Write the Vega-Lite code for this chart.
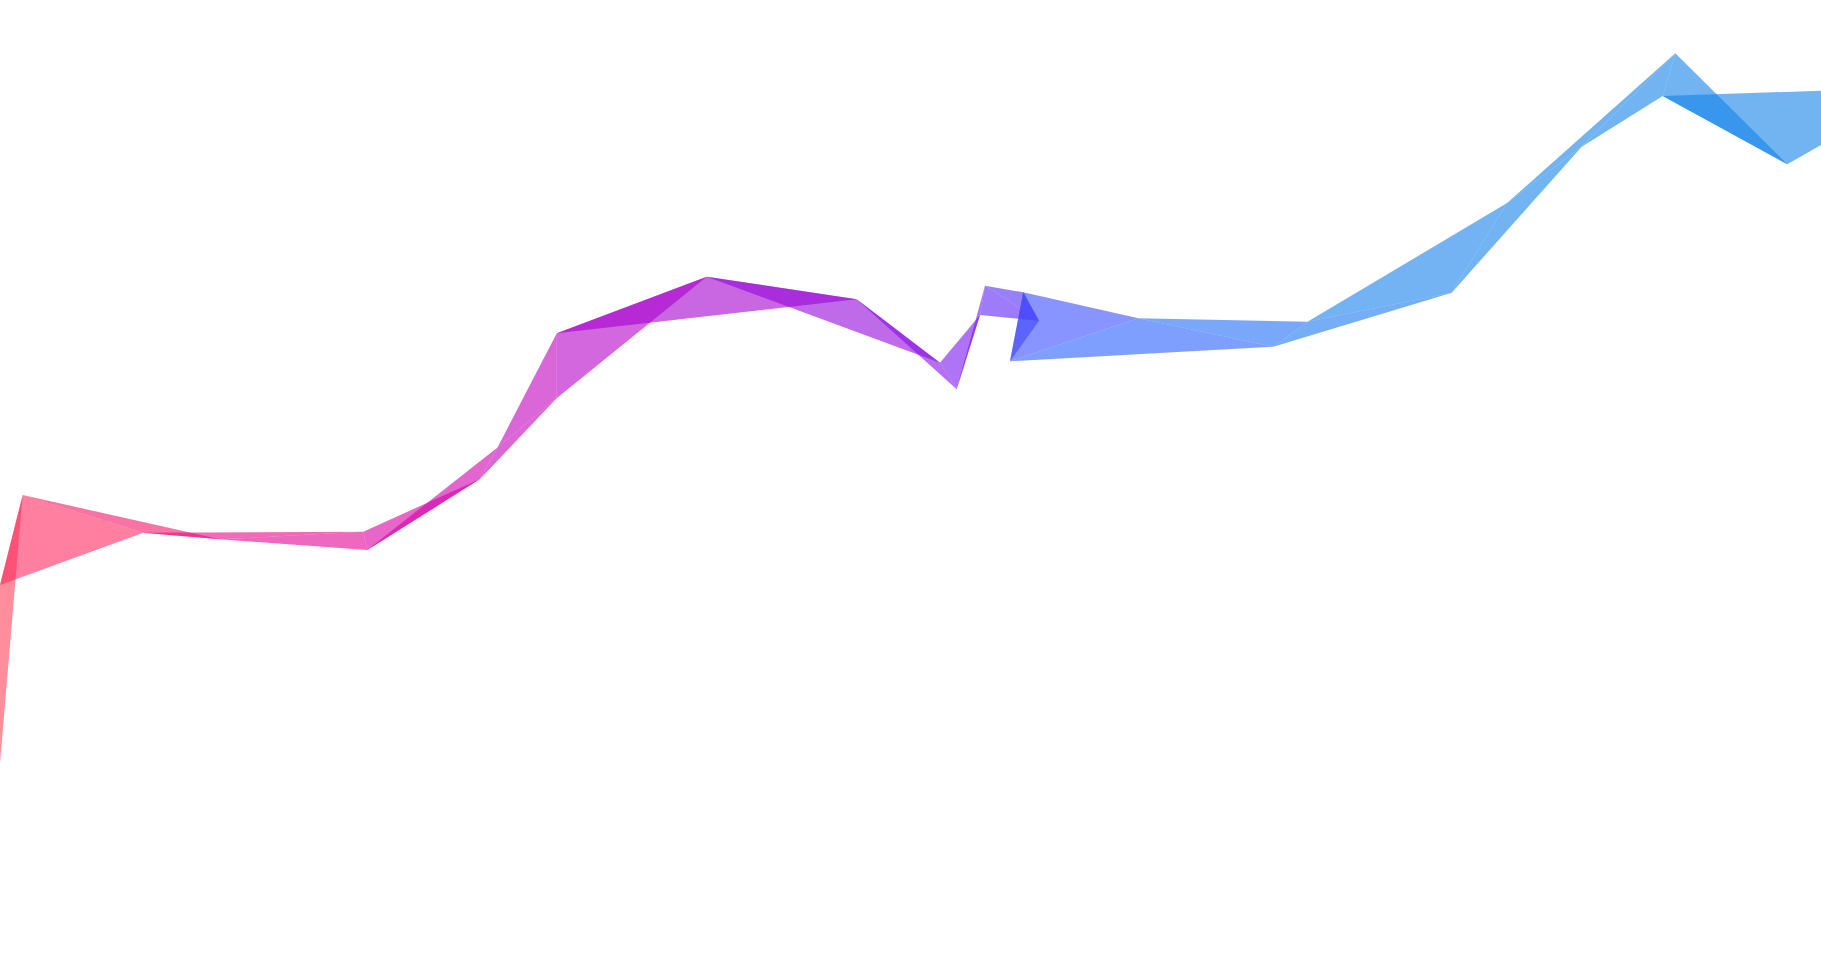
{
  "$schema": "https://vega.github.io/schema/vega-lite/v6.json",
  "width": 1821,
  "height": 965,
  "autosize": {"type": "none"},
  "padding": 0,
  "background": "white",
  "config": {"view": {"stroke": null}},
  "data": {
    "values": [
      {"g": 1, "c": 0, "x": -25, "y": -93}, {"g": 1, "c": 0, "x": 0, "y": 380}, {"g": 1, "c": 0, "x": 22.7, "y": 470},
      {"g": 2, "c": 55, "x": 0, "y": 380}, {"g": 2, "c": 55, "x": 22.7, "y": 470}, {"g": 2, "c": 55, "x": 143.3, "y": 432.3},
      {"g": 3, "c": 129, "x": 22.7, "y": 470}, {"g": 3, "c": 129, "x": 143.3, "y": 432.3}, {"g": 3, "c": 129, "x": 220, "y": 425.7},
      {"g": 4, "c": 242, "x": 143.3, "y": 432.3}, {"g": 4, "c": 242, "x": 220, "y": 425.7}, {"g": 4, "c": 242, "x": 363.3, "y": 433.3},
      {"g": 5, "c": 317, "x": 220, "y": 425.7}, {"g": 5, "c": 317, "x": 363.3, "y": 433.3}, {"g": 5, "c": 317, "x": 367.3, "y": 415},
      {"g": 6, "c": 404, "x": 363.3, "y": 433.3}, {"g": 6, "c": 404, "x": 367.3, "y": 415}, {"g": 6, "c": 404, "x": 480, "y": 486},
      {"g": 7, "c": 448, "x": 367.3, "y": 415}, {"g": 7, "c": 448, "x": 480, "y": 486}, {"g": 7, "c": 448, "x": 497.5, "y": 517.5},
      {"g": 8, "c": 511, "x": 480, "y": 486}, {"g": 8, "c": 511, "x": 497.5, "y": 517.5}, {"g": 8, "c": 511, "x": 556.7, "y": 566.7},
      {"g": 9, "c": 537, "x": 497.5, "y": 517.5}, {"g": 9, "c": 537, "x": 556.7, "y": 566.7}, {"g": 9, "c": 537, "x": 556.8, "y": 631.7},
      {"g": 10, "c": 607, "x": 556.7, "y": 566.7}, {"g": 10, "c": 607, "x": 556.8, "y": 631.7}, {"g": 10, "c": 607, "x": 706.7, "y": 688.3},
      {"g": 11, "c": 707, "x": 556.8, "y": 631.7}, {"g": 11, "c": 707, "x": 706.7, "y": 688.3}, {"g": 11, "c": 707, "x": 856.7, "y": 665.7},
      {"g": 12, "c": 834, "x": 706.7, "y": 688.3}, {"g": 12, "c": 834, "x": 856.7, "y": 665.7}, {"g": 12, "c": 834, "x": 940, "y": 602.3},
      {"g": 13, "c": 918, "x": 856.7, "y": 665.7}, {"g": 13, "c": 918, "x": 940, "y": 602.3}, {"g": 13, "c": 918, "x": 956.7, "y": 575.7},
      {"g": 14, "c": 959, "x": 940, "y": 602.3}, {"g": 14, "c": 959, "x": 956.7, "y": 575.7}, {"g": 14, "c": 959, "x": 980, "y": 650},
      {"g": 15, "c": 974, "x": 956.7, "y": 575.7}, {"g": 15, "c": 974, "x": 980, "y": 650}, {"g": 15, "c": 974, "x": 985, "y": 679.3},
      {"g": 16, "c": 1001, "x": 980, "y": 650}, {"g": 16, "c": 1001, "x": 985, "y": 679.3}, {"g": 16, "c": 1001, "x": 1039, "y": 644.3},
      {"g": 17, "c": 1016, "x": 985, "y": 679.3}, {"g": 17, "c": 1016, "x": 1039, "y": 644.3}, {"g": 17, "c": 1016, "x": 1023.3, "y": 672.7},
      {"g": 18, "c": 1024, "x": 1039, "y": 644.3}, {"g": 18, "c": 1024, "x": 1023.3, "y": 672.7}, {"g": 18, "c": 1024, "x": 1010, "y": 603.7},
      {"g": 19, "c": 1057, "x": 1023.3, "y": 672.7}, {"g": 19, "c": 1057, "x": 1010, "y": 603.7}, {"g": 19, "c": 1057, "x": 1138.3, "y": 646.7},
      {"g": 20, "c": 1141, "x": 1010, "y": 603.7}, {"g": 20, "c": 1141, "x": 1138.3, "y": 646.7}, {"g": 20, "c": 1141, "x": 1273.3, "y": 618.3},
      {"g": 21, "c": 1240, "x": 1138.3, "y": 646.7}, {"g": 21, "c": 1240, "x": 1273.3, "y": 618.3}, {"g": 21, "c": 1240, "x": 1307.5, "y": 643.3},
      {"g": 22, "c": 1344, "x": 1273.3, "y": 618.3}, {"g": 22, "c": 1344, "x": 1307.5, "y": 643.3}, {"g": 22, "c": 1344, "x": 1451.7, "y": 672.3},
      {"g": 23, "c": 1422, "x": 1307.5, "y": 643.3}, {"g": 23, "c": 1422, "x": 1451.7, "y": 672.3}, {"g": 23, "c": 1422, "x": 1506.7, "y": 761.7},
      {"g": 24, "c": 1513, "x": 1451.7, "y": 672.3}, {"g": 24, "c": 1513, "x": 1506.7, "y": 761.7}, {"g": 24, "c": 1513, "x": 1581.7, "y": 818.3},
      {"g": 25, "c": 1588, "x": 1506.7, "y": 761.7}, {"g": 25, "c": 1588, "x": 1581.7, "y": 818.3}, {"g": 25, "c": 1588, "x": 1675.3, "y": 911.7},
      {"g": 26, "c": 1640, "x": 1581.7, "y": 818.3}, {"g": 26, "c": 1640, "x": 1675.3, "y": 911.7}, {"g": 26, "c": 1640, "x": 1662.7, "y": 869},
      {"g": 27, "c": 1708, "x": 1675.3, "y": 911.7}, {"g": 27, "c": 1708, "x": 1662.7, "y": 869}, {"g": 27, "c": 1708, "x": 1787.3, "y": 800.7},
      {"g": 28, "c": 1790, "x": 1662.7, "y": 869}, {"g": 28, "c": 1790, "x": 1787.3, "y": 800.7}, {"g": 28, "c": 1790, "x": 1921.6, "y": 877.7}
    ]
  },
  "mark": {
    "type": "line",
    "interpolate": "linear-closed",
    "fillOpacity": 0.6,
    "strokeWidth": 0,
    "strokeOpacity": 0,
    "clip": true
  },
  "encoding": {
    "x": {"field": "x", "type": "quantitative", "scale": {"domain": [0, 1821], "nice": false, "zero": false}, "axis": null},
    "y": {"field": "y", "type": "quantitative", "scale": {"domain": [0, 965], "nice": false, "zero": false}, "axis": null},
    "detail": {"field": "g", "type": "nominal"},
    "order": {"field": "g", "type": "quantitative"},
    "fill": {
      "field": "c",
      "type": "quantitative",
      "legend": null,
      "scale": {
        "domain": [0, 55, 130, 240, 400, 510, 600, 720, 850, 960, 1010, 1060, 1150, 1300, 1450, 1821],
        "range": ["#FF4158", "#FF2A61", "#F71669", "#E80887", "#D900A3", "#C300B9", "#B603C8", "#A300D0", "#9307D9", "#7A16EE", "#5826F7", "#3750FF", "#2661FA", "#1B73F3", "#1482E9", "#1482E9"],
        "interpolate": "rgb"
      }
    }
  }
}
